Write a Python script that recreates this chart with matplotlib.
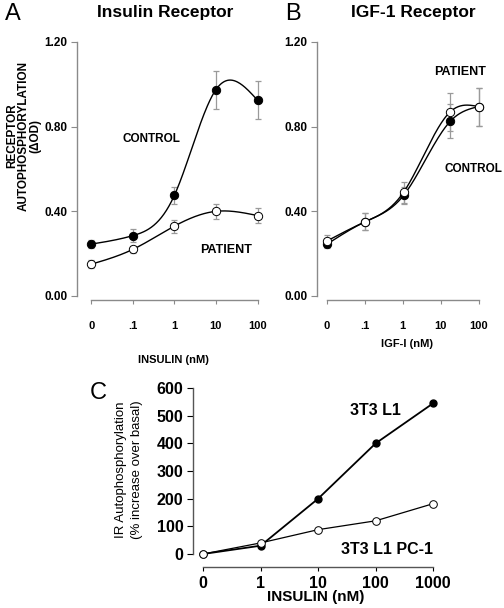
import numpy as np
import matplotlib
matplotlib.use("Agg")
import matplotlib.pyplot as plt

plt.rcParams["font.family"] = ["Liberation Sans", "DejaVu Sans"]

# --- data ---
dose_labels_ab = ["0", ".1", "1", "10", "100"]
dose_pos_ab = [0, 1, 2, 3, 4]

a_control = [0.245, 0.285, 0.475, 0.975, 0.925]
a_control_err = [0.02, 0.03, 0.04, 0.09, 0.09]
a_patient = [0.15, 0.22, 0.33, 0.40, 0.38]
a_patient_err = [0.02, 0.015, 0.03, 0.035, 0.035]

b_control = [0.245, 0.35, 0.475, 0.825, 0.895]
b_control_err = [0.02, 0.04, 0.04, 0.08, 0.09]
b_patient = [0.26, 0.35, 0.49, 0.87, 0.895]
b_patient_err = [0.03, 0.04, 0.05, 0.09, 0.09]
b_pos_pts = [0, 1, 2.02, 3.25, 4]

c_labels = ["0", "1", "10", "100", "1000"]
c_pos = [0, 1, 2, 3, 4]
c_l1 = [0, 30, 200, 400, 545]
c_pc1 = [0, 40, 88, 120, 182]


def natural_spline(x, y, n=200):
    # smooth line through the points, like the original plotting program
    x = np.asarray(x, float)
    y = np.asarray(y, float)
    k = len(x)
    h = np.diff(x)
    A = np.zeros((k, k))
    r = np.zeros(k)
    A[0, 0] = A[-1, -1] = 1
    for i in range(1, k - 1):
        A[i, i - 1] = h[i - 1]
        A[i, i] = 2 * (h[i - 1] + h[i])
        A[i, i + 1] = h[i]
        r[i] = 3 * ((y[i + 1] - y[i]) / h[i] - (y[i] - y[i - 1]) / h[i - 1])
    c = np.linalg.solve(A, r)
    xs = np.linspace(x[0], x[-1], n)
    ys = np.empty_like(xs)
    for j, xv in enumerate(xs):
        i = min(np.searchsorted(x, xv, side="right") - 1, k - 2)
        b = (y[i + 1] - y[i]) / h[i] - h[i] * (2 * c[i] + c[i + 1]) / 3
        d = (c[i + 1] - c[i]) / (3 * h[i])
        t = xv - x[i]
        ys[j] = y[i] + b * t + c[i] * t ** 2 + d * t ** 3
    return xs, ys


def style_ab(ax, xl, xr):
    ax.set_xlim(xl, xr)
    ax.set_ylim(0, 1.2)
    for s in ["top", "right"]:
        ax.spines[s].set_visible(False)
    for s in ["left", "bottom"]:
        ax.spines[s].set_color("#8a8a8a")
        ax.spines[s].set_linewidth(1.0)
    ax.spines["bottom"].set_position(("outward", 3))
    ax.spines["bottom"].set_bounds(0, 4)
    ax.set_yticks([0, 0.4, 0.8, 1.2])
    ax.set_yticklabels(["0.00", "0.40", "0.80", "1.20"])
    ax.set_xticks(dose_pos_ab)
    ax.set_xticklabels(dose_labels_ab)
    ax.tick_params(axis="y", direction="out", length=4, color="#8a8a8a",
                   labelsize=8.5, pad=3)
    ax.tick_params(axis="x", direction="out", length=3, color="#8a8a8a",
                   labelsize=8, pad=12)
    for t in ax.get_xticklabels() + ax.get_yticklabels():
        t.set_fontweight("bold")


def plot_series(ax, xp, y, err, filled):
    xs, ys = natural_spline(xp, y)
    ax.plot(xs, ys, color="black", lw=1.0, zorder=2, clip_on=False)
    ax.errorbar(xp, y, yerr=err, fmt="none", ecolor="#9a9a9a", elinewidth=0.9,
                capsize=2.5, capthick=0.9, zorder=1, clip_on=False)
    ax.plot(xp, y, "o", ms=6, mfc="black" if filled else "white",
            mec="black", mew=0.7, zorder=3, clip_on=False)


fig = plt.figure(figsize=(5.04, 6.08), dpi=100)
W, H = 504.0, 608.0

# Panel A
axA = fig.add_axes([77 / W, (H - 296) / H, 193 / W, 254 / H])
style_ab(axA, -0.34, 4.3)
plot_series(axA, dose_pos_ab, a_patient, a_patient_err, False)
plot_series(axA, dose_pos_ab, a_control, a_control_err, True)
axA.text(1.45, 0.74, "CONTROL", fontsize=8.5, fontweight="bold", ha="center", va="center")
axA.text(3.25, 0.215, "PATIENT", fontsize=9, fontweight="bold", ha="center", va="center")
axA.set_xlabel("INSULIN (nM)", fontsize=8, fontweight="bold")
axA.xaxis.set_label_coords(0.5, -0.232)
fig.text(24 / W, 1 - 136 / H, "RECEPTOR\nAUTOPHOSPHORYLATION\n(\u0394OD)",
         rotation=90, ha="center", va="center", fontsize=8.5, fontweight="bold",
         linespacing=0.95)
fig.text(165 / W, 1 - 13 / H, "Insulin Receptor", fontsize=12.5, fontweight="bold",
         ha="center", va="center")
fig.text(13 / W, 1 - 14 / H, "A", fontsize=17, ha="center", va="center")

# Panel B
axB = fig.add_axes([317 / W, (H - 296) / H, 173 / W, 254 / H])
style_ab(axB, -0.263, 4.3)
plot_series(axB, b_pos_pts, b_control, b_control_err, True)
plot_series(axB, b_pos_pts, b_patient, b_patient_err, False)
axB.text(3.5, 1.06, "PATIENT", fontsize=9, fontweight="bold", ha="center", va="center")
axB.text(3.85, 0.6, "CONTROL", fontsize=8.5, fontweight="bold", ha="center", va="center")
axB.set_xlabel("IGF-I (nM)", fontsize=8, fontweight="bold")
axB.xaxis.set_label_coords(0.52, -0.17)
fig.text(413 / W, 1 - 13 / H, "IGF-1 Receptor", fontsize=12.5, fontweight="bold",
         ha="center", va="center")
fig.text(293 / W, 1 - 14 / H, "B", fontsize=17, ha="center", va="center")

# Panel C
axC = fig.add_axes([193 / W, (H - 554) / H, 246 / W, 166 / H])
axC.set_xlim(-0.174, 4.1)
axC.set_ylim(0, 600)
for s in ["top", "right"]:
    axC.spines[s].set_visible(False)
for s in ["left", "bottom"]:
    axC.spines[s].set_color("#555555")
    axC.spines[s].set_linewidth(1.0)
axC.spines["bottom"].set_position(("outward", 9))
axC.spines["bottom"].set_bounds(0, 4)
axC.plot(c_pos, c_pc1, "-o", color="black", lw=0.9, ms=5.5, mfc="white",
         mec="black", mew=0.7, clip_on=False, zorder=3)
axC.plot(c_pos, c_l1, "-o", color="black", lw=1.3, ms=5, mfc="black",
         mec="black", clip_on=False, zorder=2)
axC.set_yticks([0, 100, 200, 300, 400, 500, 600])
axC.set_xticks(c_pos)
axC.set_xticklabels(c_labels)
axC.tick_params(axis="y", direction="out", length=4, labelsize=11.5, pad=3)
axC.tick_params(axis="x", direction="out", length=3, labelsize=11.5, pad=4)
for t in axC.get_xticklabels() + axC.get_yticklabels():
    t.set_fontweight("bold")
axC.text(3.0, 520, "3T3 L1", fontsize=11.5, fontweight="bold", ha="center", va="center")
axC.text(3.2, 18, "3T3 L1 PC-1", fontsize=11.5, fontweight="bold", ha="center", va="center")
axC.set_xlabel("INSULIN (nM)", fontsize=11, fontweight="bold", va="center")
axC.xaxis.set_label_coords(0.5, -(597 - 554) / 166)
fig.text(129 / W, 1 - 470 / H, "IR Autophosphorylation\n(% increase over basal)",
         rotation=90, ha="center", va="center", fontsize=9.5, linespacing=1.35)
fig.text(98 / W, 1 - 393 / H, "C", fontsize=17, ha="center", va="center")

fig.savefig("out.png", dpi=100)
